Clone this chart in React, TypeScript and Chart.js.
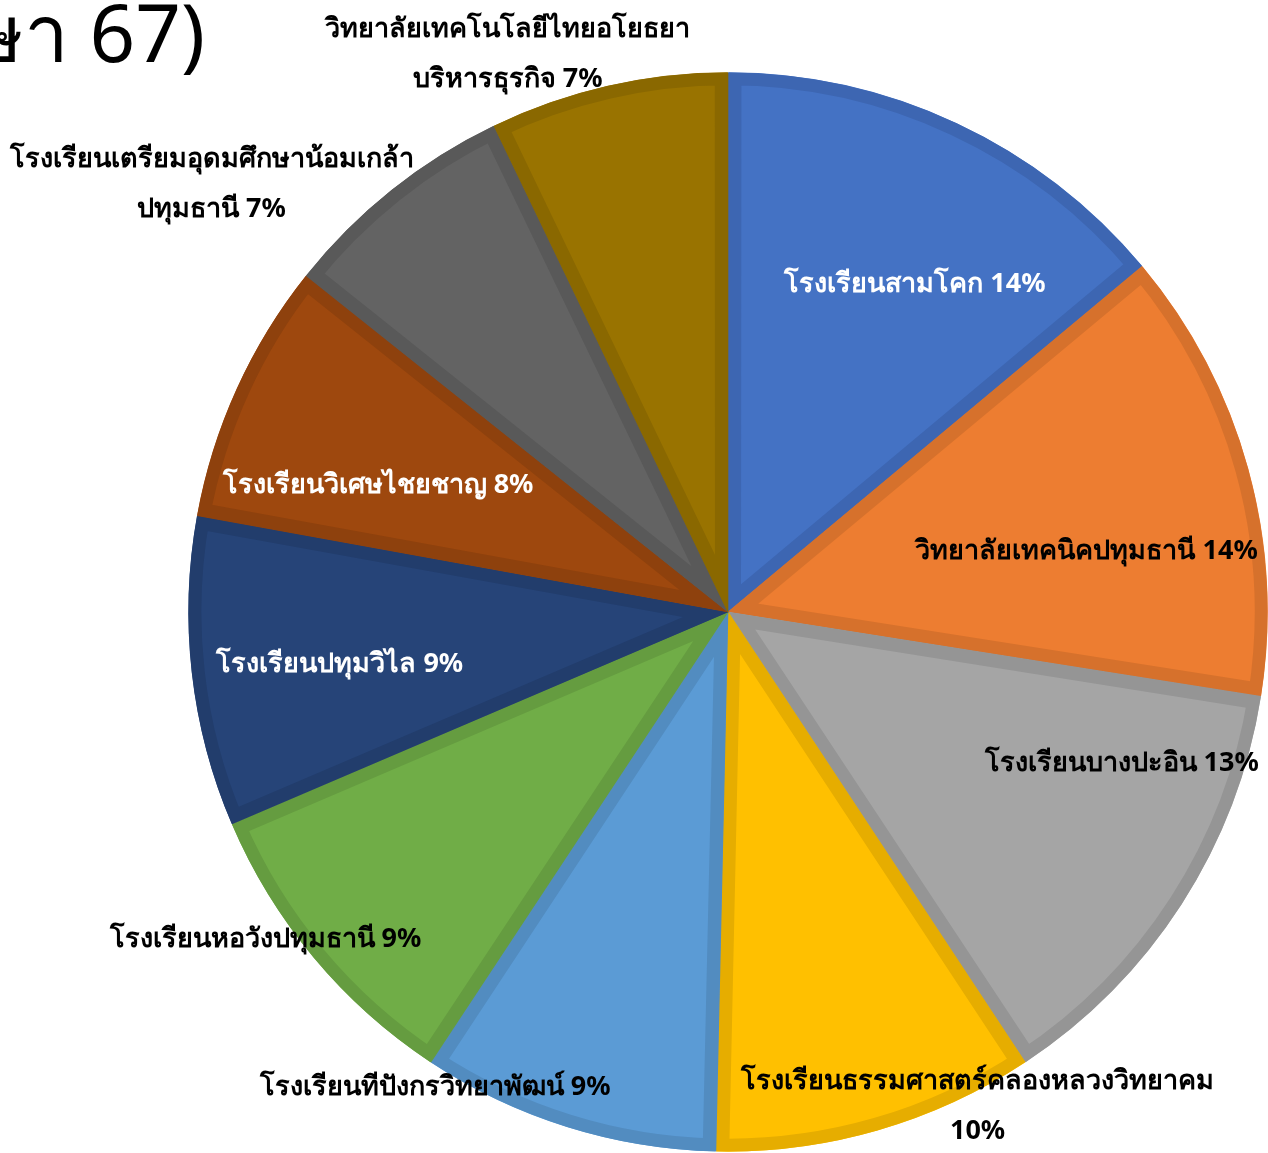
import React, { useEffect, useRef } from "react";
import { Chart, registerables } from "chart.js";

Chart.register(...registerables);

const categories = [
  "โรงเรียนสามโคก",
  "วิทยาลัยเทคนิคปทุมธานี",
  "โรงเรียนบางปะอิน",
  "โรงเรียนธรรมศาสตร์คลองหลวงวิทยาคม",
  "โรงเรียนทีปังกรวิทยาพัฒน์",
  "โรงเรียนหอวังปทุมธานี",
  "โรงเรียนปทุมวิไล",
  "โรงเรียนวิเศษไชยชาญ",
  "โรงเรียนเตรียมอุดมศึกษาน้อมเกล้า ปทุมธานี",
  "วิทยาลัยเทคโนโลยีไทยอโยธยา บริหารธุรกิจ",
];

const values = [39, 38, 37, 27, 25, 26, 26, 22, 20, 20];

const percentLabels = ["14%", "14%", "13%", "10%", "9%", "9%", "9%", "8%", "7%", "7%"];

// label text lines (how the labels are wrapped)
const labelLines = [
  ["โรงเรียนสามโคก 14%"],
  ["วิทยาลัยเทคนิคปทุมธานี 14%"],
  ["โรงเรียนบางปะอิน 13%"],
  ["โรงเรียนธรรมศาสตร์คลองหลวงวิทยาคม", "10%"],
  ["โรงเรียนทีปังกรวิทยาพัฒน์ 9%"],
  ["โรงเรียนหอวังปทุมธานี 9%"],
  ["โรงเรียนปทุมวิไล 9%"],
  ["โรงเรียนวิเศษไชยชาญ 8%"],
  ["โรงเรียนเตรียมอุดมศึกษาน้อมเกล้า", "ปทุมธานี 7%"],
  ["วิทยาลัยเทคโนโลยีไทยอโยธยา", "บริหารธุรกิจ 7%"],
];

const fillColors = [
  "#4472C4", "#ED7D31", "#A5A5A5", "#FFC000", "#5B9BD5",
  "#70AD47", "#264478", "#9E480E", "#636363", "#997300",
];
const borderColors = [
  "#3D66B2", "#D6712C", "#959595", "#E6AD00", "#528CC0",
  "#659C40", "#223D6C", "#8E410D", "#595959", "#8A6800",
];
const labelColors = ["#FFFFFF", "#000000", "#000000", "#000000", "#000000", "#000000", "#FFFFFF", "#FFFFFF", "#000000", "#000000"];

// label placement (best-fit): angle tweak in degrees from slice middle, radial fraction
const labelAngleTweak = [4.6, 5.9, -11.7, -10.7, 14.3, 4.6, -1.2, -4.5, -11.8, -8.7];
const labelRadialFrac = [0.7, 0.674, 0.782, 1.027, 1.034, 1.05, 0.726, 0.69, 1.243, 1.112];

const titleText = "ปีการศึกษา 67)";

const LABEL_FONT = "bold 27px 'Noto Sans', 'DejaVu Sans', sans-serif";

const labelPlugin = {
  id: "pieLabels",
  afterDatasetsDraw(chart: any) {
    const ctx = chart.ctx;
    const meta = chart.getDatasetMeta(0);
    ctx.save();
    ctx.font = LABEL_FONT;
    ctx.textAlign = "center";
    ctx.textBaseline = "middle";
    meta.data.forEach((arc: any, i: number) => {
      const p = arc.getProps(["x", "y", "startAngle", "endAngle", "outerRadius"], true);
      const mid = (p.startAngle + p.endAngle) / 2 + (labelAngleTweak[i] * Math.PI) / 180;
      const r = p.outerRadius * labelRadialFrac[i];
      const cx = p.x + Math.cos(mid) * r;
      const cy = p.y + Math.sin(mid) * r;
      const lines = labelLines[i];
      const lh = 50;
      ctx.fillStyle = labelColors[i];
      lines.forEach((ln, k) => {
        ctx.fillText(ln, cx, cy + (k - (lines.length - 1) / 2) * lh);
      });
    });
    ctx.restore();
  },
};

const titlePlugin = {
  id: "cutTitle",
  afterDraw(chart: any) {
    const ctx = chart.ctx;
    ctx.save();
    ctx.font = "80px 'Noto Sans', sans-serif";
    ctx.fillStyle = "#000000";
    ctx.textAlign = "right";
    ctx.textBaseline = "alphabetic";
    ctx.fillText(titleText, 205, 62);
    ctx.restore();
  },
};

export default function App() {
  const canvasRef = useRef<HTMLCanvasElement | null>(null);

  useEffect(() => {
    document.body.style.margin = "0";
    const canvas = canvasRef.current;
    if (!canvas) return;
    const chart = new Chart(canvas, {
      type: "pie",
      data: {
        labels: categories,
        datasets: [
          {
            data: values,
            backgroundColor: fillColors,
            borderColor: borderColors,
            borderWidth: 13,
            borderAlign: "inner",
            spacing: 1,
          },
        ],
      },
      options: {
        animation: false,
        responsive: false,
        maintainAspectRatio: false,
        layout: { padding: { left: 188, right: 0, top: 71, bottom: 0 } },
        plugins: {
          legend: { display: false },
          tooltip: { enabled: false },
          title: { display: false },
        },
      } as any,
      plugins: [labelPlugin, titlePlugin],
    });
    return () => chart.destroy();
  }, []);

  return (
    <div style={{ width: 1268, height: 1153, background: "#FFFFFF" }}>
      <canvas ref={canvasRef} width={1268} height={1153} style={{ display: "block" }} />
    </div>
  );
}
